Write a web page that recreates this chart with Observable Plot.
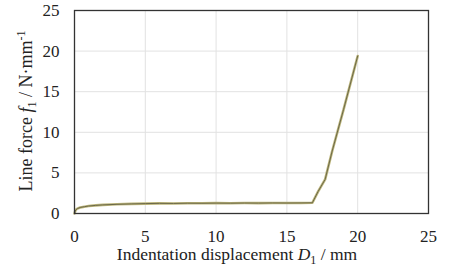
<!DOCTYPE html>
<html>
<head>
<meta charset="utf-8">
<script src="https://cdn.jsdelivr.net/npm/d3@7"></script>
<script src="https://cdn.jsdelivr.net/npm/@observablehq/plot@0.6"></script>
<style>
  body { margin: 0; background: #fff; }
  #chart svg { display: block; }
</style>
</head>
<body>
<div id="chart"></div>
<script>
// Indentation displacement D1 (mm)
const displacement = [0, 0.05, 0.1, 0.2, 0.4, 0.7, 1, 1.5, 2, 3, 4, 5, 6, 7, 8, 9, 10, 11, 12, 13, 14, 15, 16, 16.8, 17.2, 17.7, 18.2, 19, 20];
// Line force f1 (N/mm)
const force = [0, 0.3, 0.45, 0.6, 0.74, 0.84, 0.92, 1.0, 1.06, 1.13, 1.18, 1.22, 1.25, 1.24, 1.27, 1.26, 1.28, 1.27, 1.29, 1.28, 1.3, 1.29, 1.3, 1.32, 2.7, 4.2, 7.7, 12.8, 19.4];
const xTicks = [0, 5, 10, 15, 20, 25];
const yTicks = [0, 5, 10, 15, 20, 25];

const data = displacement.map((d, i) => ({D: d, f: force[i]}));

const W = 466, H = 276;
const font = "'Liberation Serif', 'Times New Roman', serif";

const plot = Plot.plot({
  width: W,
  height: H,
  marginLeft: 74,
  marginRight: 38,
  marginTop: 10,
  marginBottom: 63,
  x: {domain: [0, 25], label: null},
  y: {domain: [0, 25], label: null},
  marks: [
    Plot.gridX(xTicks, {stroke: "#e2e2e2", strokeOpacity: 1, strokeWidth: 1}),
    Plot.gridY(yTicks, {stroke: "#e2e2e2", strokeOpacity: 1, strokeWidth: 1}),
    Plot.axisX(xTicks, {tickSize: 0, tickPadding: 16, fill: "#222", label: null, fontSize: 17, fontFamily: "Liberation Serif"}),
    Plot.axisY(yTicks, {tickSize: 0, tickPadding: 15, fill: "#222", label: null, fontSize: 17, fontFamily: "Liberation Serif"}),
    Plot.line(data, {x: "D", y: "f", stroke: "#bdb67c", strokeWidth: 2.6}),
    Plot.line(data, {x: "D", y: "f", stroke: "#6b6848", strokeWidth: 1}),
    Plot.frame({stroke: "#333", strokeWidth: 1.3})
  ]
});

document.getElementById("chart").appendChild(plot);

const svg = d3.select(plot);
svg.selectAll("text").style("font-family", font).style("font-size", "17px");

// X axis title
const xt = svg.append("text")
  .attr("x", 237).attr("y", 260)
  .attr("text-anchor", "middle")
  .style("font-family", font).style("font-size", "17.5px").attr("fill", "#222");
xt.append("tspan").text("Indentation displacement ");
xt.append("tspan").attr("font-style", "italic").text("D");
xt.append("tspan").style("font-size", "12px").attr("dy", 4).text("1");
xt.append("tspan").attr("dy", -4).text(" / mm");

// Y axis title
const yt = svg.append("text")
  .attr("transform", "translate(32,111) rotate(-90)")
  .attr("text-anchor", "middle")
  .style("font-family", font).style("font-size", "18px").attr("fill", "#222");
yt.append("tspan").text("Line force ");
yt.append("tspan").attr("font-style", "italic").text("f");
yt.append("tspan").style("font-size", "12px").attr("dy", 4).text("1");
yt.append("tspan").attr("dy", -4).text(" / N·mm");
yt.append("tspan").style("font-size", "12px").attr("dy", -7).text("-1");
</script>
</body>
</html>
